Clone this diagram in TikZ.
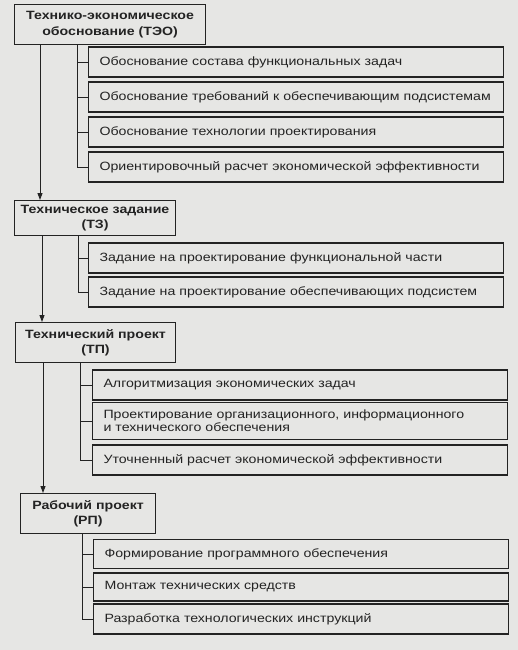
\documentclass[tikz,border=0pt]{standalone}
\usepackage{fontspec}
\setmainfont[FakeStretch=1.18]{Liberation Sans}
\usetikzlibrary{arrows.meta}
\definecolor{paper}{RGB}{230,230,228}
\definecolor{ink}{RGB}{35,35,35}
\tikzset{
  stage/.style={draw=ink, line width=1.1pt, anchor=north west, align=center, inner sep=2pt,
    font=\fontsize{12}{14.5}\selectfont\bfseries, text=ink},
  task/.style={draw=ink, line width=1.1pt, anchor=west, align=left, text width=393pt,
    inner xsep=11pt, inner ysep=2pt, font=\fontsize{12}{13}\selectfont, text=ink},
  trunk/.style={draw=ink, line width=0.9pt, -{Triangle[length=7pt,width=5pt]}},
  branch/.style={draw=ink, line width=0.9pt}
}
\begin{document}
\begin{tikzpicture}[x=1pt,y=-1pt]
\fill[paper] (0,0) rectangle (518,650);
\useasboundingbox (0,0) rectangle (518,650);

% stage boxes
\node[stage, minimum width=191pt, minimum height=40pt, font=\fontsize{12}{16.5}\selectfont\bfseries] (m1) at (14,4) {Технико-экономическое\\обоснование (ТЭО)};
\node[stage, minimum width=161pt, minimum height=35pt] (m2) at (14,200) {Техническое задание\\(ТЗ)};
\node[stage, minimum width=160pt, minimum height=40pt] (m3) at (15,322) {Технический проект\\(ТП)};
\node[stage, minimum width=135pt, minimum height=40pt] (m4) at (20,493) {Рабочий проект\\(РП)};

% tasks of stage 1
\node[task, minimum height=30pt] (c11) at (88,62) {Обоснование состава функциональных задач};
\node[task, minimum height=30pt] (c12) at (88,97) {Обоснование требований к обеспечивающим подсистемам};
\node[task, minimum height=30pt] (c13) at (88,132) {Обоснование технологии проектирования};
\node[task, minimum height=30pt] (c14) at (88,167) {Ориентировочный расчет экономической эффективности};

% tasks of stage 2
\node[task, minimum height=30pt] (c21) at (88,258) {Задание на проектирование функциональной части};
\node[task, minimum height=30pt] (c22) at (88,292) {Задание на проектирование обеспечивающих подсистем};

% tasks of stage 3
\node[task, minimum height=30pt] (c31) at (92,385) {Алгоритмизация экономических задач};
\node[task, minimum height=37pt] (c32) at (92,421) {Проектирование организационного, информационного\\и технического обеспечения};
\node[task, minimum height=30pt] (c33) at (92,460) {Уточненный расчет экономической эффективности};

% tasks of stage 4
\node[task, minimum height=29pt] (c41) at (93,554) {Формирование программного обеспечения};
\node[task, minimum height=28pt] (c42) at (93,587) {Монтаж технических средств};
\node[task, minimum height=30pt] (c43) at (93,619) {Разработка технологических инструкций};

% guide coordinates
\coordinate (t1) at (40,0);
\coordinate (t2) at (42,0);
\coordinate (t3) at (43,0);
\coordinate (b1) at (77,0);
\coordinate (b2) at (78,0);
\coordinate (b3) at (80,0);
\coordinate (b4) at (82,0);

% trunk arrows
\draw[trunk] (m1.south -| t1) -- (m2.north -| t1);
\draw[trunk] (m2.south -| t2) -- (m3.north -| t2);
\draw[trunk] (m3.south -| t3) -- (m4.north -| t3);

% branches
\foreach \c in {c11,c12,c13,c14} \draw[branch] (m1.south -| b1) |- (\c.west);
\foreach \c in {c21,c22} \draw[branch] (m2.south -| b2) |- (\c.west);
\foreach \c in {c31,c32,c33} \draw[branch] (m3.south -| b3) |- (\c.west);
\foreach \c in {c41,c42,c43} \draw[branch] (m4.south -| b4) |- (\c.west);
\end{tikzpicture}
\end{document}
